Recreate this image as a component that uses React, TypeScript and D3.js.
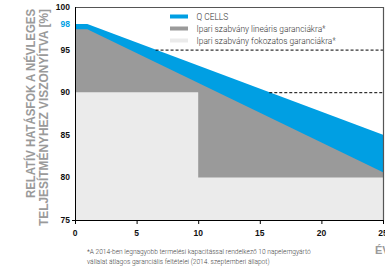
import { useEffect, useRef } from 'react';
import { area, curveStepAfter, scaleLinear, select } from 'd3';

// Q CELLS garancia
const qYears = [0, 1, 25];
const qValues = [98, 98, 85];
// ipari szabvány lineáris
const linYears = [0, 1, 25];
const linValues = [97.4, 97.4, 80.6];
// ipari szabvány fokozatos
const stepYears = [0, 10, 25];
const stepValues = [90, 80, 80];

const dashLevels = [95, 90];
const yTicks = [75, 80, 85, 90, 95, 100];
const xTicks = [0, 5, 10, 15, 20, 25];

const legendLabels = [
  'Q CELLS',
  'Ipari szabvány lineáris garanciákra*',
  'Ipari szabvány fokozatos garanciákra*',
];
const footnote = [
  '*A 2014-ben legnagyobb termelési kapacitással rendelkező 10 napelemgyártó',
  'vállalat átlagos garanciális feltételei (2014. szeptemberi állapot)',
];
const yTitle = ['RELATÍV HATÁSFOK A NÉVLEGES', 'TELJESÍTMÉNYHEZ VISZONYÍTVA [%]'];

const BLUE = '#009fe3';
const GRAY = '#9a9a9a';
const LIGHT = '#ebebeb';

export default function App() {
  const svgRef = useRef<SVGSVGElement>(null);

  useEffect(() => {
    document.body.style.margin = '0';
    const width = 385;
    const height = 269;
    const svg = select(svgRef.current);
    svg.selectAll('*').remove();
    svg.attr('width', width).attr('height', height);

    const x = scaleLinear().domain([0, 25]).range([75, 383]);
    const y = scaleLinear().domain([75, 100]).range([220, 7]);

    const toPts = (xs: number[], vs: number[]) => xs.map((t, i) => ({ t, v: vs[i] }));

    const ar = area<{ t: number; v: number }>()
      .x((d) => x(d.t))
      .y0(y(75))
      .y1((d) => y(d.v));

    svg.append('path').datum(toPts(qYears, qValues)).attr('d', ar).attr('fill', BLUE);
    svg.append('path').datum(toPts(linYears, linValues)).attr('d', ar).attr('fill', GRAY);
    svg
      .append('path')
      .datum(toPts(stepYears, stepValues))
      .attr('d', ar.curve(curveStepAfter))
      .attr('fill', LIGHT);

    // szaggatott vonalak ahol a Q CELLS vonal átlépi a szintet
    const crossing = (level: number) => {
      for (let i = 0; i < qYears.length - 1; i++) {
        const v0 = qValues[i];
        const v1 = qValues[i + 1];
        if ((v0 - level) * (v1 - level) <= 0 && v0 !== v1) {
          return qYears[i] + ((level - v0) / (v1 - v0)) * (qYears[i + 1] - qYears[i]);
        }
      }
      return 0;
    };
    dashLevels.forEach((lv) => {
      svg
        .append('line')
        .attr('x1', x(crossing(lv)))
        .attr('x2', x(25))
        .attr('y1', y(lv) + 0.5)
        .attr('y2', y(lv) + 0.5)
        .attr('stroke', '#000')
        .attr('stroke-width', 1)
        .attr('stroke-dasharray', '3,2');
    });

    // keret
    svg
      .append('path')
      .attr('d', `M${x(0)},${y(100) + 0.5}H${x(25) + 0.5}V${y(75)}`)
      .attr('fill', 'none')
      .attr('stroke', '#555')
      .attr('stroke-width', 1.2);
    svg
      .append('line')
      .attr('x1', x(0) + 0.5)
      .attr('x2', x(0) + 0.5)
      .attr('y1', y(100))
      .attr('y2', y(75))
      .attr('stroke', '#000');
    svg
      .append('line')
      .attr('x1', x(0) - 3)
      .attr('x2', x(25) + 1)
      .attr('y1', y(75) + 0.5)
      .attr('y2', y(75) + 0.5)
      .attr('stroke', '#000');

    // x tengely
    xTicks.forEach((t) => {
      svg
        .append('line')
        .attr('x1', x(t) + 0.5)
        .attr('x2', x(t) + 0.5)
        .attr('y1', y(75))
        .attr('y2', y(75) + 4)
        .attr('stroke', '#000');
      svg
        .append('text')
        .attr('x', x(t))
        .attr('y', 236)
        .attr('text-anchor', 'middle')
        .attr('font-family', 'Liberation Sans, Arial, sans-serif')
        .attr('font-weight', 'bold')
        .attr('font-size', 8.5)
        .attr('fill', '#111')
        .text(t);
    });

    // y tengely
    yTicks.forEach((v) => {
      svg
        .append('text')
        .attr('x', 70)
        .attr('y', y(v) + 3)
        .attr('text-anchor', 'end')
        .attr('font-family', 'Liberation Sans, Arial, sans-serif')
        .attr('font-weight', 'bold')
        .attr('font-size', 8.5)
        .attr('fill', '#111')
        .text(v);
    });
    svg
      .append('text')
      .attr('x', 70)
      .attr('y', y(qValues[0]) + 3)
      .attr('text-anchor', 'end')
      .attr('font-family', 'Liberation Sans, Arial, sans-serif')
      .attr('font-weight', 'bold')
      .attr('font-size', 8.5)
      .attr('fill', BLUE)
      .text(qValues[0]);

    // y cím
    const titleX = [34.5, 48];
    const titleLen = [189, 217];
    yTitle.forEach((s, i) => {
      svg
        .append('text')
        .attr('transform', `translate(${titleX[i]},9) rotate(-90)`)
        .attr('text-anchor', 'end')
        .attr('font-family', 'Liberation Sans, Arial, sans-serif')
        .attr('font-weight', 'bold')
        .attr('font-size', 13)
        .attr('fill', GRAY)
        .attr('textLength', titleLen[i])
        .attr('lengthAdjust', 'spacingAndGlyphs')
        .text(s);
    });

    // ÉV
    svg
      .append('text')
      .attr('x', 375)
      .attr('y', 254)
      .attr('font-family', 'Liberation Sans, Arial, sans-serif')
      .attr('font-weight', 'bold')
      .attr('font-size', 11)
      .attr('fill', GRAY)
      .text('ÉV');

    // jelmagyarázat
    const swatch = [BLUE, GRAY, LIGHT];
    legendLabels.forEach((s, i) => {
      const ly = 16.5 + i * 12;
      svg
        .append('rect')
        .attr('x', 170)
        .attr('y', ly - 2)
        .attr('width', 18)
        .attr('height', 4)
        .attr('fill', swatch[i]);
      svg
        .append('text')
        .attr('x', 196.5)
        .attr('y', ly + 3)
        .attr('font-family', 'Roboto, sans-serif')
        .attr('font-weight', 300)
        .attr('font-size', 8.4)
        .attr('fill', '#333')
        .text(s);
    });

    // lábjegyzet
    footnote.forEach((s, i) => {
      svg
        .append('text')
        .attr('x', 87)
        .attr('y', 254 + i * 10)
        .attr('font-family', 'Roboto, sans-serif')
        .attr('font-weight', 300)
        .attr('font-size', 6.6)
        .attr('fill', '#444')
        .text(s);
    });
  }, []);

  return (
    <div>
      <svg ref={svgRef} style={{ display: 'block' }}></svg>
    </div>
  );
}
